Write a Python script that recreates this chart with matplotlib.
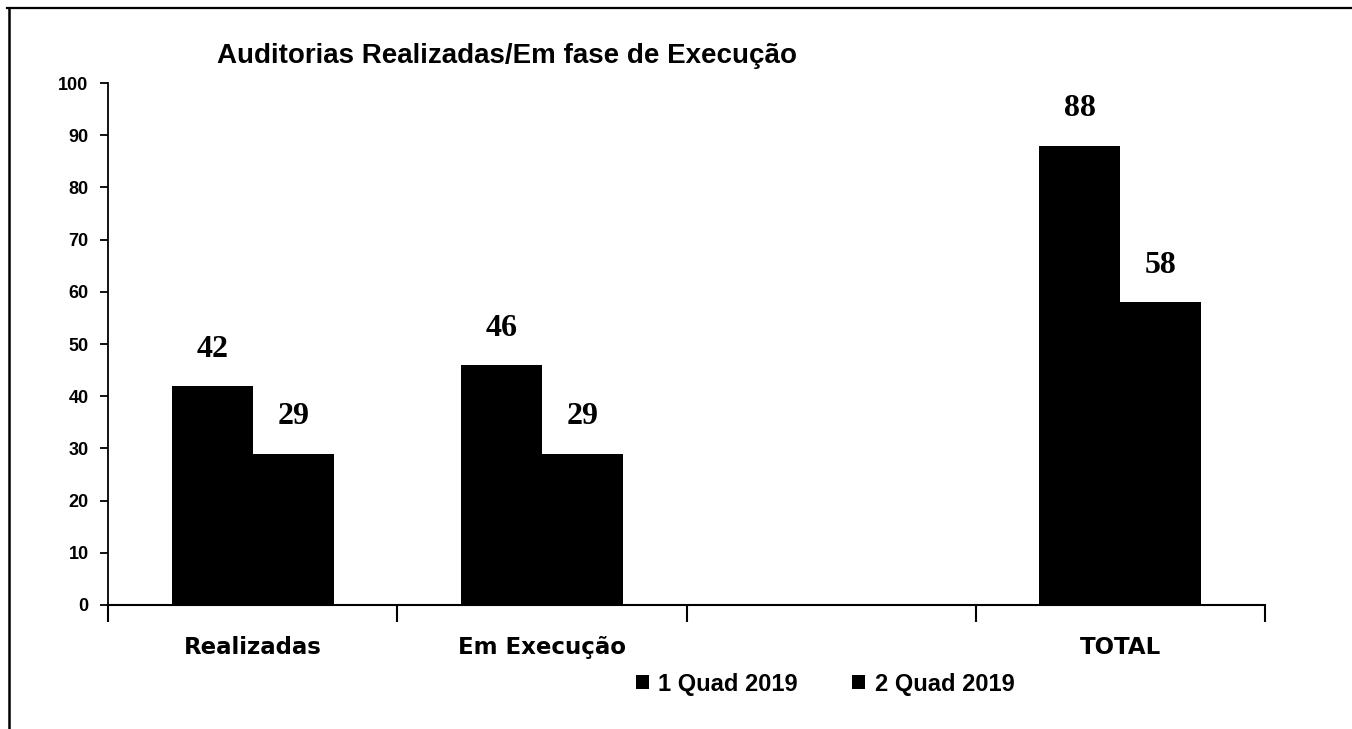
import numpy as np
import matplotlib.pyplot as plt
from matplotlib.lines import Line2D

categorias = ["Realizadas", "Em Execução", "", "TOTAL"]
quad1 = [42, 46, 0, 88]
quad2 = [29, 29, 0, 58]
series = ["1 Quad 2019", "2 Quad 2019"]
titulo = "Auditorias Realizadas/Em fase de Execução"

fig = plt.figure(figsize=(13.52, 7.29), dpi=100)
ax = fig.add_axes([0.0799, 0.1701, 0.8558, 0.716])

x = np.arange(len(categorias))
w = 0.28
b1 = ax.bar(x - w / 2, quad1, w, color="black", label=series[0])
b2 = ax.bar(x + w / 2, quad2, w, color="black", label=series[1])

# rotulos dos valores (so onde tem barra)
for barras, vals in ((b1, quad1), (b2, quad2)):
    for r, v in zip(barras, vals):
        if v == 0:
            continue
        ax.annotate(str(v), (r.get_x() + r.get_width() / 2, v),
                    xytext=(0, 16), textcoords="offset points",
                    ha="center", va="bottom", fontsize=23, fontweight="bold",
                    family="Liberation Serif")

ax.set_xlim(-0.5, len(categorias) - 0.5)
ax.set_ylim(0, 100)
ax.set_yticks(range(0, 101, 10))
ax.tick_params(axis="y", direction="out", length=6, width=1.3, pad=8,
               labelsize=13)
for t in ax.get_yticklabels():
    t.set_fontweight("bold")
    t.set_family("Liberation Sans")

ax.set_xticks(np.arange(-0.5, len(categorias), 1.0))
ax.set_xticklabels([])
ax.tick_params(axis="x", which="major", direction="out", length=12, width=1.5)
ax.set_xticks(x, minor=True)
ax.set_xticklabels(categorias, minor=True, fontsize=16.5, fontweight="bold",
                   family="DejaVu Sans")
ax.tick_params(axis="x", which="minor", length=0, pad=22)

for s in ("top", "right"):
    ax.spines[s].set_visible(False)
ax.spines["left"].set_linewidth(1.3)
ax.spines["bottom"].set_linewidth(1.5)

fig.text(217 / 1352, 1 - 56 / 729, titulo, fontsize=20, fontweight="bold",
         family="Liberation Sans", va="center", ha="left")

leg = fig.legend(handles=[b1, b2], labels=series, loc="center",
                 bbox_to_anchor=(825 / 1352, 1 - 684 / 729), ncol=2,
                 frameon=False, handlelength=0.55, handleheight=0.55,
                 handletextpad=0.4, columnspacing=2.3,
                 prop={"family": "Liberation Sans", "weight": "bold", "size": 17})

# moldura (so topo e lado esquerdo aparecem)
fig.add_artist(Line2D([7 / 1352, 1], [1 - 8 / 729, 1 - 8 / 729],
                      color="black", lw=1.6, transform=fig.transFigure))
fig.add_artist(Line2D([9 / 1352, 9 / 1352], [0, 1 - 8 / 729],
                      color="black", lw=1.8, transform=fig.transFigure))

plt.savefig("out.png", dpi=100)
